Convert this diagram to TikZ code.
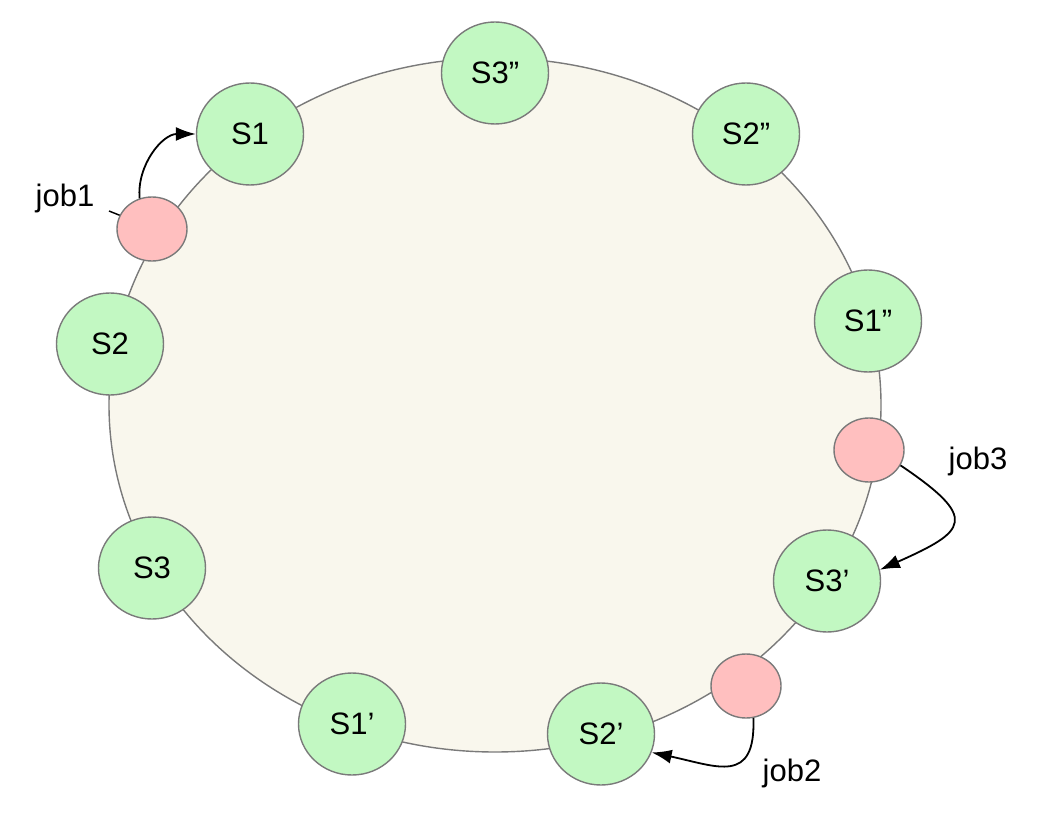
\documentclass[tikz,border=0pt]{standalone}
\usepackage{fontspec}
\setmainfont{Liberation Sans}
\usetikzlibrary{arrows.meta,shapes.geometric}
\definecolor{ringfill}{HTML}{F9F7ED}
\definecolor{ringline}{HTML}{7A7A7A}
\definecolor{srvfill}{HTML}{C2F8C2}
\definecolor{jobfill}{HTML}{FFBFBF}
\tikzset{
  ring/.style={ellipse, draw=ringline, fill=ringfill, line width=1.4pt,
    minimum width=772pt, minimum height=694pt, inner sep=0pt},
  server/.style={ellipse, draw=ringline, fill=srvfill, line width=1.4pt,
    minimum width=107pt, minimum height=102pt, inner sep=0pt},
  job/.style={ellipse, draw=ringline, fill=jobfill, line width=1.4pt,
    minimum width=70pt, minimum height=64pt, inner sep=0pt},
  joblabel/.style={inner sep=0pt}
}
\begin{document}
\begin{tikzpicture}[x=1pt, y=1pt, >={Latex[length=20pt,width=14pt]},
  font=\fontsize{31}{37}\selectfont]
\useasboundingbox (0,0) rectangle (1040,812);
% Ring
\node[ring] (ring) at (495,407) {};
% Servers on the ring
\node[server] (s1)  at (250,678) {S1};
\node[server] (s3c) at (495,739) {S3”};
\node[server] (s2c) at (746,678) {S2”};
\node[server] (s1c) at (868,491) {S1”};
\node[server] (s3b) at (827,231) {S3’};
\node[server] (s2b) at (601,78)  {S2’};
\node[server] (s1b) at (352,88)  {S1’};
\node[server] (s3)  at (152,244) {S3};
\node[server] (s2)  at (110,468) {S2};
% Jobs
\node[job] (job1) at (152,583) {};
\node[job] (job3) at (869,362) {};
\node[job] (job2) at (746,126) {};
\node[joblabel] (lab1) at (65,614)  {job1};
\node[joblabel] (lab3) at (978,351) {job3};
\node[joblabel] (lab2) at (792,39)  {job2};
\coordinate (tick1) at (109,601);
\draw[line width=1.4pt] (job1.157) -- (tick1);
% Assignments
\draw[->, line width=1.8pt] (job1.112) to[out=95, in=180] (s1.west);
\draw[->, line width=1.8pt] (job3.-26) to[out=-34, in=24, looseness=2.3] (s3b.12);
\draw[->, line width=1.8pt] (job2.-77) to[out=-88, in=-12, looseness=1.6] (s2b.-20);
\end{tikzpicture}
\end{document}
